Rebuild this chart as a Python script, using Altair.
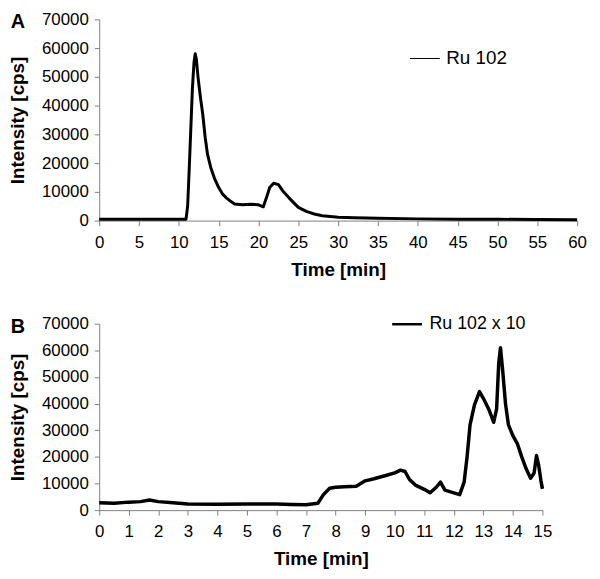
import altair as alt
import pandas as pd

# Panel A: Ru 102, 0-60 min
a_time = [0, 2, 4, 6, 8, 10, 10.9, 11.1, 11.3, 11.5, 11.7, 11.9, 12.05, 12.2, 12.4, 12.7,
          13.0, 13.3, 13.6, 14.0, 14.5, 15.0, 15.5, 16.0, 16.5, 17.0, 18.0, 19.0, 20.0,
          20.6, 21.0, 21.4, 21.9, 22.5, 23.0, 23.8, 24.5, 25.0, 26.0, 27.0, 28.0, 30.0,
          32, 35, 40, 45, 50, 55, 60]
a_int = [500, 500, 450, 450, 450, 500, 500, 5000, 18000, 32000, 46000, 55000, 58000, 56000,
         50000, 43000, 37000, 29000, 23000, 18500, 14500, 11500, 9200, 7800, 6700, 5800,
         5500, 5700, 5500, 4800, 8000, 11500, 13000, 12500, 10500, 8000, 6000, 4600, 3200,
         2300, 1700, 1200, 1000, 800, 600, 500, 450, 400, 300]

# Panel B: Ru 102 x 10, 0-15 min
b_time = [0, 0.5, 1.0, 1.4, 1.7, 2.0, 2.5, 3.0, 4.0, 5.0, 6.0, 6.5, 7.0, 7.4, 7.6, 7.8, 8.0,
          8.3, 8.7, 9.0, 9.3, 9.7, 10.0, 10.2, 10.35, 10.5, 10.7, 11.0, 11.2, 11.4, 11.55,
          11.7, 12.0, 12.2, 12.35, 12.45, 12.55, 12.7, 12.87, 13.0, 13.2, 13.35, 13.45,
          13.52, 13.58, 13.65, 13.75, 13.85, 14.0, 14.15, 14.3, 14.45, 14.6, 14.72, 14.8,
          14.87, 14.95, 15.0]
b_int = [2800, 2600, 3000, 3200, 3800, 3200, 2800, 2300, 2200, 2300, 2300, 2100, 2000, 2600,
         6000, 8200, 8600, 8800, 9000, 11000, 11800, 13000, 14000, 15000, 14500, 11500, 9400,
         7800, 6500, 8500, 10500, 7500, 6500, 5800, 10500, 20000, 32000, 39500, 44500, 42000,
         37500, 33000, 38000, 55000, 61000, 53000, 40000, 32000, 28000, 25000, 20000, 15500,
         12000, 14000, 20500, 17000, 11000, 8000]

y_ticks = [0, 10000, 20000, 30000, 40000, 50000, 60000, 70000]
a_ticks = list(range(0, 61, 5))
b_ticks = list(range(0, 16, 1))

FONT = "Liberation Sans"

dfA = pd.DataFrame({"t": a_time, "v": a_int, "s": "Ru 102"})
dfB = pd.DataFrame({"t": b_time, "v": b_int, "s": "Ru 102 x 10"})


def panel(df, ticks, xmax, letter, w, h, sw, lsw, lx, ly, lfs, letter_y):
    x = alt.X("t:Q", title="Time [min]",
              scale=alt.Scale(domain=[0, xmax], nice=False),
              axis=alt.Axis(values=ticks, format="d", labelFlush=False,
                            labelPadding=9, titlePadding=10))
    y = alt.Y("v:Q", title="Intensity [cps]",
              scale=alt.Scale(domain=[0, 70000], nice=False),
              axis=alt.Axis(values=y_ticks, format="d", labelPadding=6, titlePadding=14))
    line = alt.Chart(df).mark_line(strokeWidth=sw, strokeJoin="round").encode(
        x=x, y=y,
        color=alt.Color("s:N", scale=alt.Scale(range=["black"]),
                        legend=alt.Legend(title=None, orient="none", legendX=lx, legendY=ly,
                                          symbolType="stroke", symbolSize=900,
                                          symbolStrokeWidth=lsw, labelFontSize=lfs,
                                          labelFont=FONT, labelColor="black",
                                          labelOffset=6, padding=0)))
    lab = alt.Chart(pd.DataFrame({"L": [letter]})).mark_text(
        font=FONT, fontSize=20, fontWeight="bold", color="black", align="center",
        baseline="middle").encode(x=alt.value(-82), y=alt.value(letter_y), text="L:N")
    return alt.layer(line, lab).properties(width=w, height=h)


pA = panel(dfA, a_ticks, 60, "A", 482, 203, 3, 1, 313, 24, 19, 3)
pB = panel(dfB, b_ticks, 15, "B", 447, 188, 3.5, 2.5, 294, -16, 18, 3)

chart = alt.vconcat(pA, pB, spacing=29).resolve_scale(color="independent").properties(
    padding={"left": 0, "top": 0, "right": 5, "bottom": 5}
).configure_view(stroke=None).configure_axis(
    labelFont=FONT, labelFontSize=17, labelColor="black",
    titleFont=FONT, titleFontSize=19, titleFontWeight="bold", titleColor="black",
    domainColor="#808080", tickColor="#808080", tickSize=5, grid=False
)

chart.save("out.html", embed_options={"renderer": "svg", "actions": False})
